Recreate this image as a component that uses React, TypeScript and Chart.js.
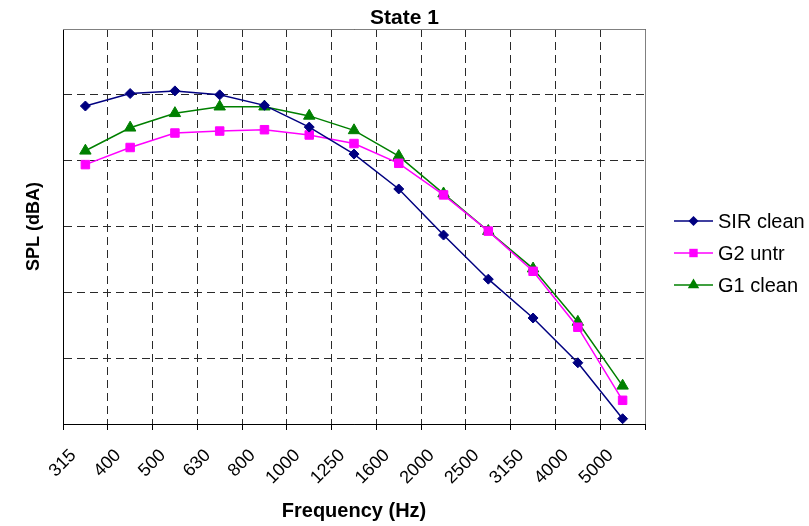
import React, { useEffect, useRef } from 'react';
import { Chart, registerables } from 'chart.js';

Chart.register(...registerables);

const chartTitle = 'State 1';
const xTitle = 'Frequency (Hz)';
const yTitle = 'SPL (dBA)';
const frequencies = ['315', '400', '500', '630', '800', '1000', '1250', '1600', '2000', '2500', '3150', '4000', '5000'];
const sirClean = [48.3, 50.2, 50.6, 50.0, 48.4, 45.1, 41.0, 35.7, 28.7, 22.0, 16.1, 9.3, 0.8];
const g2Untr = [39.4, 42.0, 44.2, 44.5, 44.7, 43.9, 42.6, 39.6, 34.8, 29.3, 23.2, 14.7, 3.6];
const g1Clean = [41.5, 45.0, 47.2, 48.2, 48.2, 46.8, 44.6, 40.7, 35.0, 29.3, 23.6, 15.5, 5.8];
const yMin = 0;
const yMax = 60;
const yStep = 10;

const FONT = 'Arial, "Liberation Sans", sans-serif';

function drawMarker(ctx: CanvasRenderingContext2D, style: string, x: number, y: number, color: string) {
  ctx.fillStyle = color;
  ctx.beginPath();
  if (style === 'rectRot') {
    const r = 5;
    ctx.moveTo(x, y - r);
    ctx.lineTo(x + r, y);
    ctx.lineTo(x, y + r);
    ctx.lineTo(x - r, y);
  } else if (style === 'rect') {
    const s = 4.2;
    ctx.rect(x - s, y - s, 2 * s, 2 * s);
  } else {
    const r = 6.6;
    ctx.moveTo(x, y - r);
    ctx.lineTo(x + r * 0.866, y + r * 0.5);
    ctx.lineTo(x - r * 0.866, y + r * 0.5);
  }
  ctx.closePath();
  ctx.fill();
}

const decorPlugin = {
  id: 'decor',
  beforeDatasetsDraw(chart: any) {
    const { ctx, chartArea: a } = chart;
    ctx.save();
    ctx.lineWidth = 1;
    ctx.strokeStyle = '#808080';
    ctx.setLineDash([]);
    ctx.beginPath();
    ctx.moveTo(Math.round(a.left), Math.round(a.top - 0.5) + 0.5);
    ctx.lineTo(Math.round(a.right - 0.5) + 0.5, Math.round(a.top - 0.5) + 0.5);
    ctx.lineTo(Math.round(a.right - 0.5) + 0.5, Math.round(a.bottom));
    ctx.stroke();
    ctx.restore();
  },
  afterDraw(chart: any) {
    const { ctx } = chart;
    ctx.save();
    ctx.fillStyle = '#000';
    ctx.font = `bold 21px ${FONT}`;
    ctx.textAlign = 'center';
    ctx.textBaseline = 'middle';
    ctx.fillText(chartTitle, chart.width / 2, 18);

    // legend
    const lx0 = 674;
    const lx1 = 713;
    const rowY0 = 221;
    const rowGap = 32;
    ctx.font = `20px ${FONT}`;
    ctx.textAlign = 'left';
    chart.data.datasets.forEach((ds: any, i: number) => {
      const y = rowY0 + i * rowGap;
      ctx.strokeStyle = ds.borderColor;
      ctx.lineWidth = 1.5;
      ctx.setLineDash([]);
      ctx.beginPath();
      ctx.moveTo(lx0, y);
      ctx.lineTo(lx1, y);
      ctx.stroke();
      drawMarker(ctx, ds.pointStyle, (lx0 + lx1) / 2, y, ds.borderColor);
      ctx.fillStyle = '#000';
      ctx.fillText(ds.label, 718, y + 1);
    });
    ctx.restore();
  },
};

export default function App() {
  const canvasRef = useRef<HTMLCanvasElement | null>(null);

  useEffect(() => {
    const canvas = canvasRef.current;
    if (!canvas) return;
    const chart = new Chart(canvas, {
      type: 'line',
      data: {
        labels: frequencies,
        datasets: [
          {
            label: 'SIR clean',
            data: sirClean,
            borderColor: '#000080',
            backgroundColor: '#000080',
            pointStyle: 'rectRot',
            pointRadius: 5,
            borderWidth: 1.5,
            pointBorderWidth: 1,
          },
          {
            label: 'G2 untr',
            data: g2Untr,
            borderColor: '#FF00FF',
            backgroundColor: '#FF00FF',
            pointStyle: 'rect',
            pointRadius: 6,
            borderWidth: 1.5,
            pointBorderWidth: 1,
          },
          {
            label: 'G1 clean',
            data: g1Clean,
            borderColor: '#008000',
            backgroundColor: '#008000',
            pointStyle: 'triangle',
            pointRadius: 6.6,
            borderWidth: 1.5,
            pointBorderWidth: 1,
          },
        ],
      },
      options: {
        responsive: false,
        animation: false,
        events: [],
        layout: { padding: { top: 29, right: 164, left: 0, bottom: 0 } },
        plugins: {
          legend: { display: false },
          title: { display: false },
          tooltip: { enabled: false },
        },
        elements: { line: { tension: 0 } },
        scales: {
          x: {
            type: 'category',
            offset: true,
            afterFit: (scale: any) => {
              scale.height = 102;
            },
            grid: {
              offset: true,
              color: '#2a2a2a',
              lineWidth: 1,
              drawTicks: true,
              tickLength: 6,
              tickColor: '#000',
              tickBorderDash: [],
            },
            border: { display: true, color: '#000', width: 1, dash: [8, 5] },
            ticks: {
              autoSkip: false,
              minRotation: 45,
              maxRotation: 45,
              padding: 15,
              labelOffset: -12,
              color: '#000',
              font: { family: FONT, size: 18 },
            },
            title: {
              display: true,
              text: xTitle,
              color: '#000',
              font: { family: FONT, size: 20, weight: 'bold' },
              padding: { top: 0, bottom: 3 },
            },
          },
          y: {
            min: yMin,
            max: yMax,
            afterFit: (scale: any) => {
              scale.width = 63;
            },
            ticks: { display: false, stepSize: yStep },
            grid: {
              color: '#2a2a2a',
              lineWidth: 1,
              drawTicks: false,
            },
            border: { display: true, color: '#000', width: 1, dash: [8, 5] },
            title: {
              display: true,
              text: yTitle,
              color: '#000',
              font: { family: FONT, size: 18, weight: 'bold' },
              padding: { top: 23, bottom: 0 },
            },
          },
        },
      },
      plugins: [decorPlugin],
    } as any);
    return () => chart.destroy();
  }, []);

  return (
    <div style={{ position: 'absolute', left: 0, top: 0, width: 809, height: 526, background: '#fff' }}>
      <canvas ref={canvasRef} width={809} height={526} style={{ display: 'block', width: 809, height: 526 }} />
    </div>
  );
}
